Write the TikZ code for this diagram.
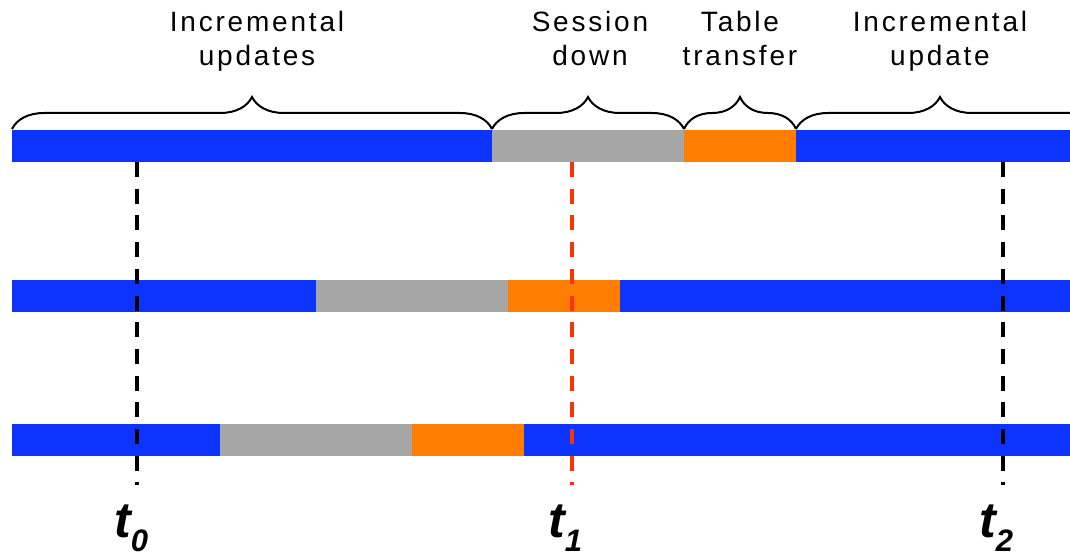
\documentclass[tikz,border=0pt]{standalone}
\usepackage{fontspec}
\setmainfont{Liberation Sans}
\newfontfamily\phasefont[LetterSpace=10]{Liberation Sans}
\usetikzlibrary{decorations.pathreplacing}
\definecolor{barblue}{RGB}{13,51,255}
\definecolor{bargray}{RGB}{166,166,166}
\definecolor{barorange}{RGB}{255,125,0}
\definecolor{markred}{RGB}{255,51,0}

\begin{document}
\begin{tikzpicture}[x=1pt,y=-1pt,
  phase/.style={decorate, decoration={brace, amplitude=32pt}, line width=2pt},
  phaselabel/.style={font=\phasefont\fontsize{28pt}{34pt}\selectfont, align=center, anchor=north, inner sep=0pt},
  marker/.style={line width=3.5pt, dash pattern=on 15pt off 11.7pt},
  tlabel/.style={font=\fontsize{50pt}{50pt}\selectfont\bfseries\itshape, anchor=base west, inner sep=0pt}]

\useasboundingbox (0,0) rectangle (1070,556);
\clip (0,0) rectangle (1070,556);

% timelines: blue = incremental updates, gray = session down, orange = table transfer
\fill[barblue]   (12,130) rectangle (492,162);
\fill[bargray]   (492,130) rectangle (684,162);
\fill[barorange] (684,130) rectangle (796,162);
\fill[barblue]   (796,130) rectangle (1070,162);

\fill[barblue]   (12,280) rectangle (316,312);
\fill[bargray]   (316,280) rectangle (508,312);
\fill[barorange] (508,280) rectangle (620,312);
\fill[barblue]   (620,280) rectangle (1070,312);

\fill[barblue]   (12,424) rectangle (220,456);
\fill[bargray]   (220,424) rectangle (412,456);
\fill[barorange] (412,424) rectangle (524,456);
\fill[barblue]   (524,424) rectangle (1070,456);

% phase braces
\coordinate (p0) at (12,129);
\coordinate (p1) at (492,129);
\coordinate (p2) at (684,129);
\coordinate (p3) at (796,129);
\coordinate (p4) at (1105,129);
\draw[phase] (p0) -- (p1);
\draw[phase] (p1) -- (p2);
\draw[phase] (p2) -- (p3);
\draw[phase, decoration={aspect=0.466}] (p3) -- (p4);

\node[phaselabel] (lab1) at (257,11) {Incremental\\updates};
\node[phaselabel] (lab2) at (590,11) {Session\\down};
\node[phaselabel] (lab3) at (740,11) {Table\\transfer};
\node[phaselabel] (lab4) at (940,11) {Incremental\\update};

% time markers
\coordinate (t0top) at (137,162);
\coordinate (t0bot) at (137,485);
\coordinate (t1top) at (572,162);
\coordinate (t1bot) at (572,485);
\coordinate (t2top) at (1003,162);
\coordinate (t2bot) at (1003,485);
\draw[marker, black]   (t0top) -- (t0bot);
\draw[marker, markred] (t1top) -- (t1bot);
\draw[marker, black]   (t2top) -- (t2bot);

\node[tlabel] (t0) at (114,537) {t\raisebox{-14pt}{\fontsize{31pt}{31pt}\selectfont 0}};
\node[tlabel] (t1) at (548,537) {t\raisebox{-14pt}{\fontsize{31pt}{31pt}\selectfont 1}};
\node[tlabel] (t2) at (979,537) {t\raisebox{-14pt}{\fontsize{31pt}{31pt}\selectfont 2}};
\end{tikzpicture}
\end{document}
